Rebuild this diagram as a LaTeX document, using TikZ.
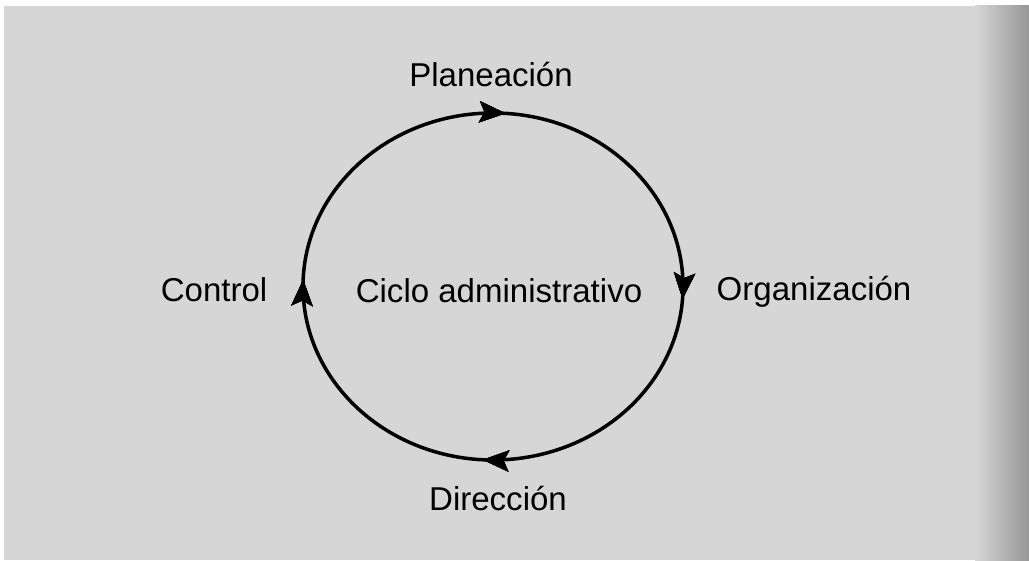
\documentclass[tikz,border=0pt]{standalone}
\usepackage{fontspec}
\setmainfont{Liberation Sans}
\usepackage{tikz}
\usetikzlibrary{arrows.meta}
\usetikzlibrary{decorations.markings}
\usetikzlibrary{positioning}
\tikzset{->-/.style = {decoration={markings,
                                   mark=at position #1 with {\arrow{Stealth[length=2.6mm, width=2.1mm, inset=0.5mm]}}},
                       postaction={decorate}}}
\tikzset{etiqueta/.style = {anchor=base, inner sep=0, font=\fontsize{9.4}{11}\selectfont}}
\definecolor{fondo}{rgb}{0.84, 0.84, 0.84}

\begin{document}
\begin{tikzpicture}
      \useasboundingbox (0, 0) rectangle (10.29, 5.60);
      \fill [fondo] (0.04, 0) rectangle (10.29, 5.54);
      \shade [left color=fondo, right color=fondo!70!black] (9.75, 0) rectangle (10.29, 5.54);

      \coordinate (centro) at (4.93, 2.735);
      \draw [line width=1pt, ->-=0.011, ->-=0.261, ->-=0.509, ->-=0.756] (centro) ++(0, 1.735) arc [start angle=90, end angle=-270, x radius=1.90, y radius=1.735];

      \node [etiqueta] (ciclo) at (4.99, 2.58) {Ciclo administrativo};
      \node [etiqueta] (planeacion) at (4.91, 4.73) {Planeación};
      \node [etiqueta, anchor=base west] (organizacion) at (7.16, 2.60) {Organización};
      \node [etiqueta] (direccion) at (4.98, 0.50) {Dirección};
      \node [etiqueta, anchor=base east] (control) at (2.68, 2.59) {Control};
    \end{tikzpicture}
\end{document}
